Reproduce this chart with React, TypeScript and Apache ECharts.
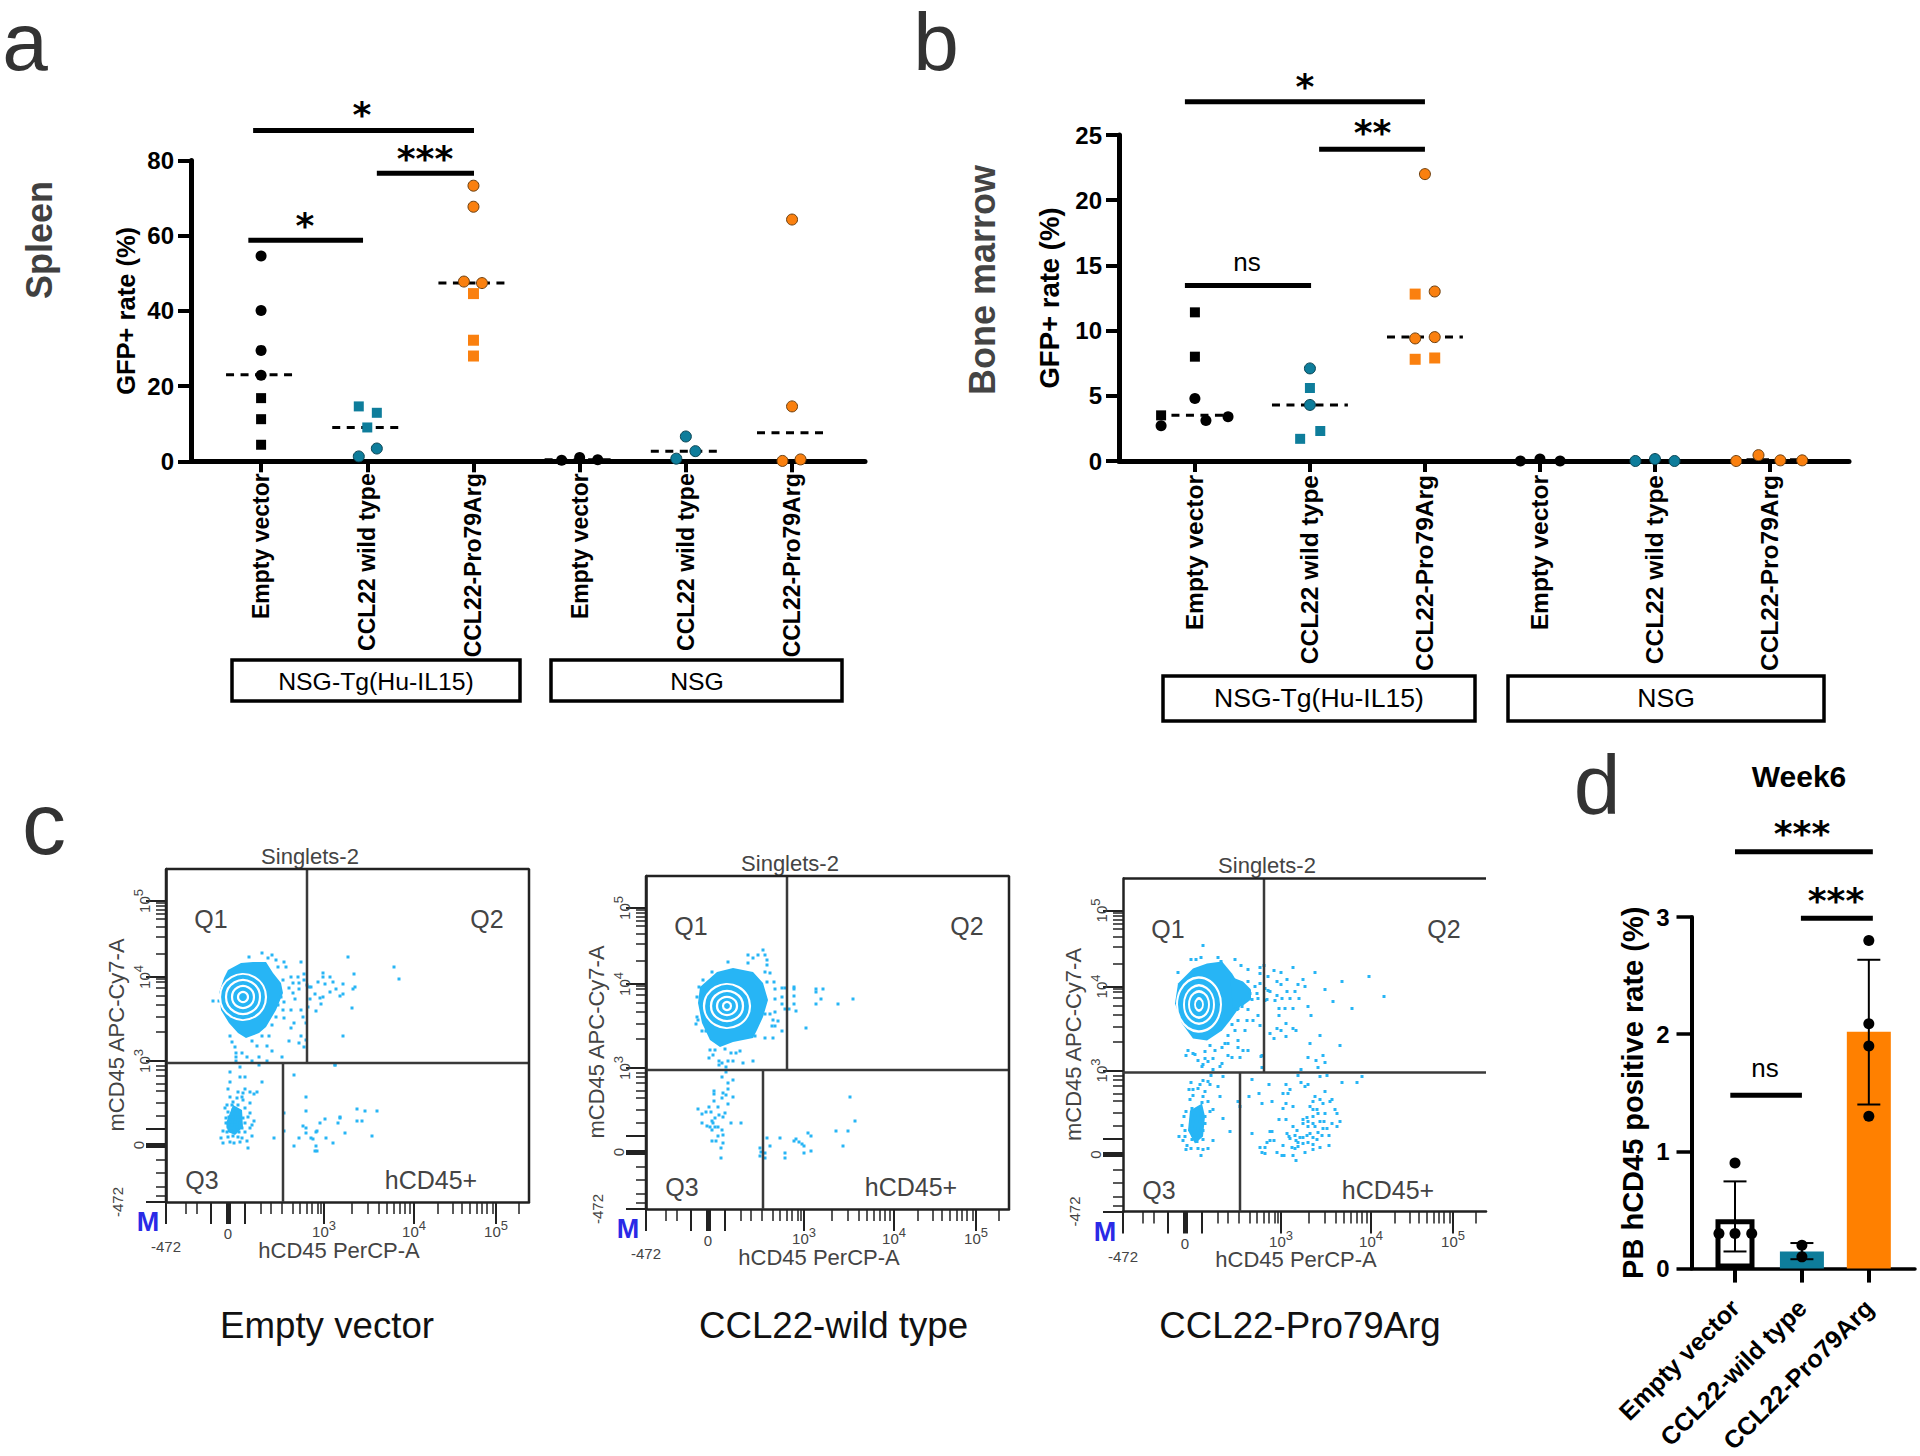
import React, { useEffect, useRef } from "react";
import * as echarts from "echarts";

const FONT = '"Liberation Sans", Arial, sans-serif';
const BLACK = "#000000";
const TEAL = "#0E7D9B";
const ORANGE = "#FA800F";
const DOT = "#27B5F5";
const INK = "#444444";

// ---------- panels a and b ----------
const categories = ["Empty vector", "CCL22 wild type", "CCL22-Pro79Arg", "Empty vector", "CCL22 wild type", "CCL22-Pro79Arg"];
const categoryPositions = [0, 1, 2, 3, 4, 5];

const spleenTicks = [0, 20, 40, 60, 80];
const spleenBlackCircles = [[0, 54.6], [0, 40.1], [0, 29.5], [0, 22.9], [2.83, 0.3], [3, 1], [3.17, 0.4]];
const spleenBlackSquares = [[0, 16.8], [0, 11.2], [0, 4.4]];
const spleenTealCircles = [[1.09, 3.4], [0.92, 1.3], [4, 6.6], [4.09, 2.7], [3.91, 0.7]];
const spleenTealSquares = [[0.92, 14.6], [1.09, 12.9], [1, 9]];
const spleenOrangeCircles = [[2, 73.3], [2, 67.7], [1.91, 47.8], [2.08, 47.4], [5, 64.3], [5, 14.6], [4.91, 0.1], [5.08, 0.5]];
const spleenOrangeSquares = [[2, 44.6], [2, 32.2], [2, 28]];
const spleenMedians = [[0, 23], [1, 9], [2, 47.4], [3, 0.4], [4, 2.7], [5, 7.6]];
const spleenBrackets = [
  [[-0.075, 88], [2.005, 88]],
  [[1.09, 76.6], [2.005, 76.6]],
  [[-0.12, 58.8], [0.96, 58.8]],
];

const marrowTicks = [0, 5, 10, 15, 20, 25];
const marrowBlackCircles = [[0, 4.8], [-0.294, 2.7], [0.096, 3.1], [0.288, 3.4], [2.83, 0], [3, 0.15], [3.175, 0]];
const marrowBlackSquares = [[0, 11.4], [0, 8], [-0.294, 3.5]];
const marrowTealCircles = [[1, 7.1], [1, 4.3], [3.83, 0], [4, 0.15], [4.17, 0]];
const marrowTealSquares = [[1, 5.6], [1.09, 2.3], [0.915, 1.7]];
const marrowOrangeCircles = [[2, 22], [2.085, 13], [1.915, 9.4], [2.085, 9.5], [4.706, 0], [4.9, 0.45], [5.09, 0.05], [5.28, 0.05]];
const marrowOrangeSquares = [[1.915, 12.8], [1.915, 7.8], [2.085, 7.9]];
const marrowMedians = [[0, 3.5], [1, 4.3], [2, 9.5], [3, 0], [4, 0], [5, 0.1]];
const marrowBrackets = [
  [[-0.087, 27.55], [2, 27.55]],
  [[1.08, 23.9], [2, 23.9]],
  [[-0.087, 13.45], [1.01, 13.45]],
];

// ---------- panel d ----------
const weekCategories = ["Empty vector", "CCL22-wild type", "CCL22-Pro79Arg"];
const weekPositions = [0, 1, 2];
const weekTicks = [0, 1, 2, 3];
const weekEmptyBar = [[0, 0.42]];
const weekBars = [[1, 0.146], [2, 2.02]];
const weekErrors = [[0, 0.146, 0.744], [1, 0.08, 0.218], [2, 1.4, 2.635]];
const weekDots = [[0, 0.9], [-0.24, 0.3], [0, 0.3], [0.25, 0.3], [1, 0.2], [1, 0.1], [2, 2.8], [2, 2.09], [2, 1.9], [2, 1.3]];
const weekBrackets = [
  [[0, 3.556], [2.06, 3.556]],
  [[0.985, 2.99], [2.06, 2.99]],
  [[-0.07, 1.48], [1, 1.48]],
];

// ---------- panel c: flow plots, channel units (x 0-363, y 0-333) ----------
const flowXShort = [20, 31, 95, 105, 116, 127, 134, 141, 146, 152, 155, 186, 202, 213, 221, 228, 234, 239, 244, 272, 287, 296, 304, 311, 316, 321, 327, 353];
const flowXLong = [0, 45, 79, 158, 248, 330];
const flowXThick = [62];
const flowXZero = [62];
const flowYShort = [6, 15, 29, 42, 86, 99, 111, 118, 126, 132, 136, 170, 185, 197, 206, 214, 220, 223, 248, 265, 275, 283, 288, 292, 296, 299];
const flowYLong = [0, 73, 141, 225, 301];
const flowYThick = [57];
const flowYZero = [57];
const flowXPower = [158, 248, 330];
const flowYPower = [141, 225, 301];
const flowExponents = ["3", "4", "5"];
const gateUpperVertical = [[141, 139], [141, 333]];
const gateHorizontal = [[0, 139], [363, 139]];
const gateLowerVertical = [[117, 0], [117, 139]];
const frameClosed = [[0, 0], [0, 333], [363, 333], [363, 0]];
const frameOpen = [[363, 333], [0, 333]];

const emptyBlobs = [
  [[58, 224], [62, 232], [75, 239], [87, 240], [100, 240], [107, 229], [115, 219], [117, 209], [110, 192], [100, 175], [93, 169], [80, 164], [72, 169], [63, 179], [55, 192], [53, 209]],
  [[60, 79], [67, 97], [76, 92], [77, 75], [69, 67], [62, 70]],
];
const emptyRings = [[77, 205, 46, 46], [77, 205, 34, 34], [77, 205, 22, 22], [77, 205, 10, 10]];
const emptyDots = [
  [96, 249], [106, 247], [83, 245], [102, 244], [110, 242], [118, 240], [135, 240], [112, 235], [120, 235], [182, 245], [228, 235], [233, 223], [188, 228], [157, 229], [157, 225], [164, 225], [152, 220], [159, 218], [167, 220], [164, 210], [170, 213], [177, 218], [177, 208], [174, 206], [187, 213], [189, 215], [186, 194], [177, 166], [157, 205], [154, 204], [155, 198], [150, 191], [149, 208], [145, 215], [143, 215], [141, 217], [144, 203], [142, 195], [138, 228], [138, 222], [132, 225], [125, 225], [117, 222], [127, 219], [133, 219], [123, 214], [127, 209], [133, 213], [129, 203], [115, 205], [118, 200], [112, 197], [125, 192], [135, 192], [117, 192], [110, 185], [118, 184], [137, 185], [128, 179], [125, 174], [140, 179], [135, 166], [140, 162], [123, 161], [133, 159], [138, 155], [106, 177], [103, 166], [96, 166], [86, 161], [91, 156], [101, 156], [106, 151], [64, 166], [66, 160], [69, 155], [70, 149], [76, 149], [70, 145], [81, 145], [86, 141], [93, 145], [101, 141], [116, 145], [70, 141], [74, 135], [93, 137], [169, 137], [47, 201], [53, 201],
  [64, 130], [74, 125], [79, 125], [64, 120], [96, 120], [62, 113], [79, 113], [84, 110], [91, 110], [72, 110], [77, 109], [88, 108], [64, 105], [71, 104], [76, 105], [67, 100], [77, 102], [84, 99], [61, 97], [66, 97], [72, 97], [79, 94], [84, 89], [59, 94], [62, 90], [67, 92], [74, 90], [60, 84], [63, 85], [67, 85], [72, 85], [77, 84], [82, 85], [88, 81], [60, 79], [64, 80], [69, 80], [74, 79], [79, 79], [86, 77], [84, 74], [57, 71], [62, 75], [66, 77], [71, 75], [76, 74], [79, 70], [86, 66], [61, 70], [65, 71], [69, 70], [73, 70], [62, 65], [67, 66], [72, 65], [55, 64], [57, 59], [64, 60], [68, 59], [74, 60], [81, 61], [82, 54], [108, 64], [76, 64],
  [128, 127], [140, 105], [140, 91], [118, 89], [118, 71], [137, 76], [140, 74], [140, 69], [133, 64], [128, 56], [145, 64], [147, 63], [150, 70], [151, 71], [154, 79], [159, 83], [160, 64], [150, 56], [151, 51], [149, 51], [167, 59], [172, 79], [174, 85], [174, 84], [179, 69], [191, 93], [199, 91], [211, 91], [191, 81], [196, 81], [206, 66], [169, 137],
];

const wildBlobs = [
  [[54, 222], [71, 237], [87, 241], [107, 237], [117, 226], [122, 209], [117, 192], [111, 179], [107, 171], [87, 167], [74, 162], [64, 169], [56, 186], [52, 206]],
];
const wildRings = [[81, 203, 46, 44], [81, 203, 32, 30], [81, 203, 20, 18], [81, 203, 8, 8]];
const wildDots = [
  [117, 259], [119, 254], [112, 254], [102, 254], [107, 251], [121, 249], [121, 244], [102, 246], [82, 247], [119, 237], [124, 236], [66, 237], [57, 229], [128, 227], [121, 227], [129, 220], [136, 221], [139, 221], [148, 222], [148, 220], [170, 220], [170, 217], [177, 220], [148, 213], [175, 210], [170, 205], [192, 205], [207, 210], [148, 205], [136, 212], [129, 210], [136, 205], [139, 200], [143, 200], [150, 198], [129, 197], [124, 195], [119, 195], [127, 189], [132, 188], [126, 183], [129, 183], [136, 178], [160, 181], [119, 171], [127, 171], [53, 222], [51, 212], [51, 192], [52, 189], [50, 185], [56, 178], [60, 178], [104, 173], [109, 173], [64, 159], [69, 159], [67, 154], [63, 151], [79, 160], [85, 156], [90, 156], [94, 158], [82, 148], [87, 148], [97, 146], [107, 148], [73, 148], [73, 144], [76, 146], [80, 142], [80, 137], [76, 132], [87, 129], [82, 126], [82, 120], [68, 118], [68, 115], [77, 116], [80, 114], [87, 112], [76, 111], [82, 105], [68, 108], [63, 102], [72, 102], [52, 100], [60, 97], [65, 97], [56, 95], [73, 94], [79, 96], [77, 92], [69, 91], [56, 86], [66, 88], [67, 86], [61, 83], [64, 82], [69, 82], [72, 82], [66, 79], [76, 79], [85, 86], [95, 86], [72, 73], [77, 74], [66, 68], [70, 68], [77, 66], [75, 61], [75, 51],
  [204, 112], [209, 88], [190, 78], [202, 78], [197, 63], [162, 76], [165, 73], [150, 70], [148, 68], [153, 67], [156, 65], [158, 63], [165, 58], [158, 56], [134, 71], [121, 71], [124, 63], [114, 61], [115, 57], [119, 56], [114, 53], [119, 51], [139, 56], [139, 51],
];

const pointBlobs = [
  [[55, 228], [70, 243], [84, 248], [99, 250], [109, 238], [117, 225], [117, 205], [107, 191], [99, 181], [84, 171], [70, 173], [59, 188], [52, 208]],
  [[107, 235], [120, 230], [128, 222], [128, 212], [120, 206], [110, 203]],
  [[67, 101], [79, 108], [82, 95], [80, 75], [72, 68], [65, 81]],
];
const pointRings = [[76, 207, 44, 54], [76, 207, 30, 38], [76, 207, 20, 26], [76, 207, 8, 12]];
const pointDots = [
  [80, 266], [68, 252], [73, 252], [78, 254], [95, 254], [98, 250], [112, 252], [118, 246], [55, 239], [125, 242], [137, 244], [141, 246], [151, 241], [158, 239], [170, 244], [192, 239], [219, 230], [246, 235], [261, 215], [180, 232], [175, 227], [182, 225], [202, 222], [210, 210], [229, 203], [145, 235], [154, 230], [158, 227], [164, 232], [145, 221], [147, 220], [154, 216], [159, 213], [164, 220], [172, 220], [176, 213], [152, 211], [167, 213], [185, 205], [188, 196], [156, 203], [162, 203], [170, 203], [156, 196], [163, 188], [154, 183], [170, 183], [173, 181], [158, 181], [147, 178], [151, 173], [163, 175], [197, 176], [187, 168], [217, 166], [185, 154], [200, 156], [193, 151], [202, 149], [195, 144], [178, 142],
  [137, 238], [125, 230], [132, 225], [137, 228], [127, 218], [134, 218], [120, 212], [129, 212], [135, 213], [142, 223], [144, 212], [119, 205], [114, 202], [125, 202], [135, 196], [130, 191], [124, 191], [115, 191], [137, 186], [109, 187], [112, 181], [122, 181], [105, 176], [115, 171], [102, 168], [105, 168], [99, 164], [92, 161], [87, 166], [115, 164], [120, 161], [125, 161], [70, 158], [82, 160], [65, 161], [63, 156], [72, 157], [105, 156], [109, 154], [117, 154], [75, 151], [82, 153], [90, 153], [85, 150], [99, 148], [97, 145], [80, 147], [139, 156], [138, 155], [139, 144], [115, 203], [142, 211],
  [79, 145], [90, 142], [100, 135], [88, 136], [68, 129], [77, 127], [80, 131], [85, 130], [87, 127], [95, 125], [66, 122], [70, 122], [75, 123], [82, 120], [70, 116], [80, 115], [97, 115], [85, 110], [67, 112], [79, 109], [69, 103], [75, 103], [90, 102], [63, 100], [87, 100], [69, 96], [75, 96], [61, 95], [82, 95], [100, 93], [70, 90], [77, 90], [82, 88], [59, 86], [69, 85], [75, 83], [107, 80], [62, 81], [80, 81], [56, 75], [62, 75], [70, 76], [77, 76], [69, 72], [74, 70], [80, 72], [90, 71], [60, 71], [64, 66], [68, 63], [63, 62], [75, 63], [80, 62], [85, 63], [78, 56],
  [129, 132], [146, 127], [163, 127], [178, 129], [185, 127], [182, 125], [167, 122], [219, 129], [234, 129], [239, 135], [197, 135], [204, 136], [175, 136], [126, 115], [136, 118], [160, 118], [165, 118], [139, 108], [149, 110], [163, 108], [160, 103], [170, 105], [115, 110], [117, 105], [192, 115], [202, 120], [197, 112], [209, 112], [207, 110], [190, 110], [200, 108], [187, 105], [190, 102], [194, 102], [212, 102], [195, 98], [202, 98], [214, 98], [156, 92], [163, 92], [180, 92], [184, 94], [190, 95], [217, 90], [185, 90], [190, 88], [197, 90], [201, 90], [209, 88], [180, 88], [214, 85], [170, 85], [174, 81], [185, 85], [192, 85], [200, 83], [204, 83], [129, 78], [147, 80], [149, 80], [164, 78], [166, 75], [167, 73], [172, 76], [177, 74], [180, 74], [184, 76], [187, 78], [190, 74], [195, 79], [199, 76], [206, 76], [147, 71], [151, 71], [144, 69], [160, 66], [173, 71], [175, 69], [180, 68], [185, 69], [190, 67], [197, 64], [194, 72], [206, 66], [137, 64], [142, 64], [169, 64], [172, 63], [175, 65], [182, 59], [190, 62], [139, 59], [142, 58], [154, 59], [159, 56], [161, 56], [170, 56], [173, 51],
];

// ---------- helpers ----------
type Txt = { text: string; x: number; y: number; size: number; weight?: string; color?: string; rot?: number; family?: string };
function txt({ text, x, y, size, weight = "normal", color = BLACK, rot = 0, family = FONT }: Txt) {
  return {
    type: "text",
    x,
    y,
    rotation: rot,
    silent: true,
    style: { text, fontSize: size, fontWeight: weight, fontFamily: family, fill: color, align: "center", verticalAlign: "middle", textAlign: "center", textVerticalAlign: "middle" },
  };
}
const stars = (text: string, x: number, y: number) =>
  txt({ text, x, y: y + 5, size: 36, weight: "bold", family: '"DejaVu Sans", sans-serif' });
const box = (x: number, y: number, width: number, height: number) => ({
  type: "rect",
  silent: true,
  shape: { x, y, width, height },
  style: { fill: "#ffffff", stroke: BLACK, lineWidth: 3.5 },
});

function App() {
  const ref = useRef<HTMLDivElement>(null);

  useEffect(() => {
    document.body.style.margin = "0";
    const chart = echarts.init(ref.current!, undefined, { renderer: "svg" });

    const grids: any[] = [];
    const xAxes: any[] = [];
    const yAxes: any[] = [];
    const series: any[] = [];
    const graphics: any[] = [];

    const points = (g: { x: number; y: number }, data: number[][], color: string, symbol: string, size: number, border?: string) =>
      series.push({
        type: "scatter",
        xAxisIndex: g.x,
        yAxisIndex: g.y,
        data,
        symbol,
        symbolSize: size,
        silent: true,
        clip: false,
        z: 4,
        itemStyle: { color, opacity: 1, borderColor: border ?? color, borderWidth: border ? 1 : 0 },
      });

    const brackets = (g: { x: number; y: number }, list: number[][][]) =>
      list.forEach((data) =>
        series.push({
          type: "line",
          xAxisIndex: g.x,
          yAxisIndex: g.y,
          data,
          symbol: "none",
          clip: false,
          silent: true,
          lineStyle: { color: BLACK, width: 5 },
        })
      );

    const medians = (g: { x: number; y: number }, data: number[][]) =>
      series.push({
        type: "custom",
        xAxisIndex: g.x,
        yAxisIndex: g.y,
        data,
        clip: false,
        silent: true,
        z: 3,
        encode: { x: 0, y: 1 },
        renderItem: (_: any, api: any) => {
          const a = api.coord([api.value(0) - 0.33, api.value(1)]);
          const b = api.coord([api.value(0) + 0.33, api.value(1)]);
          return {
            type: "line",
            shape: { x1: a[0], y1: a[1], x2: b[0], y2: b[1] },
            style: { stroke: BLACK, lineWidth: 3, lineDash: [8, 6.5], fill: null },
          };
        },
      });

    const dotPanel = (opt: any) => {
      const idx = grids.length;
      const ax = { x: xAxes.length, y: yAxes.length };
      grids.push({ left: opt.left, top: opt.top, width: opt.width, height: opt.height });
      xAxes.push({
        type: "value",
        gridIndex: idx,
        position: "bottom",
        min: -0.66,
        max: 5.687,
        splitLine: { show: false },
        axisLine: { show: true, onZero: false, lineStyle: { color: BLACK, width: 5 } },
        axisTick: { show: true, customValues: categoryPositions, length: 11, lineStyle: { color: BLACK, width: 4 } },
        axisLabel: {
          show: true,
          customValues: categoryPositions,
          rotate: 90,
          margin: opt.catMargin,
          hideOverlap: false,
          fontFamily: FONT,
          fontWeight: "bold",
          fontSize: opt.catSize,
          color: BLACK,
          formatter: (v: number) => categories[Math.round(v)],
        },
      });
      yAxes.push({
        type: "value",
        gridIndex: idx,
        position: "left",
        min: 0,
        max: opt.max,
        interval: opt.interval,
        name: "GFP+ rate (%)",
        nameLocation: "middle",
        nameGap: opt.nameGap,
        nameTextStyle: { fontFamily: FONT, fontWeight: "bold", fontSize: opt.nameSize, color: BLACK },
        splitLine: { show: false },
        axisLine: { show: true, onZero: false, lineStyle: { color: BLACK, width: 5 } },
        axisTick: { show: true, length: 13, lineStyle: { color: BLACK, width: 4 } },
        axisLabel: { margin: 17, fontFamily: FONT, fontWeight: "bold", fontSize: 24, color: BLACK, customValues: opt.ticks },
      });
      medians(ax, opt.medians);
      points(ax, opt.blackCircles, BLACK, "circle", 11);
      points(ax, opt.blackSquares, BLACK, "rect", 10);
      points(ax, opt.tealCircles, TEAL, "circle", 11, "#0A4453");
      points(ax, opt.tealSquares, TEAL, "rect", 10);
      points(ax, opt.orangeCircles, ORANGE, "circle", 11, "#6B3F10");
      points(ax, opt.orangeSquares, ORANGE, "rect", 11);
      brackets(ax, opt.brackets);
    };

    dotPanel({
      left: 191, top: 160.5, width: 674, height: 300.8, max: 80, interval: 20, ticks: spleenTicks, catSize: 23, catMargin: 12, nameSize: 25.5, nameGap: 52,
      medians: spleenMedians, blackCircles: spleenBlackCircles, blackSquares: spleenBlackSquares, tealCircles: spleenTealCircles, tealSquares: spleenTealSquares, orangeCircles: spleenOrangeCircles, orangeSquares: spleenOrangeSquares, brackets: spleenBrackets,
    });
    dotPanel({
      left: 1119, top: 135, width: 730, height: 326, max: 25, interval: 5, ticks: marrowTicks, catSize: 24.5, catMargin: 14, nameSize: 27.5, nameGap: 56,
      medians: marrowMedians, blackCircles: marrowBlackCircles, blackSquares: marrowBlackSquares, tealCircles: marrowTealCircles, tealSquares: marrowTealSquares, orangeCircles: marrowOrangeCircles, orangeSquares: marrowOrangeSquares, brackets: marrowBrackets,
    });

    // ---------- panel d ----------
    {
      const idx = grids.length;
      const ax = { x: xAxes.length, y: yAxes.length };
      grids.push({ left: 1691.5, top: 917, width: 223.5, height: 353 });
      xAxes.push({
        type: "value",
        gridIndex: idx,
        position: "bottom",
        min: -0.65,
        max: 2.69,
        splitLine: { show: false },
        axisLine: { show: true, onZero: false, lineStyle: { color: BLACK, width: 3.5 } },
        axisTick: { show: true, customValues: weekPositions, length: 14, lineStyle: { color: BLACK, width: 4 } },
        axisLabel: {
          show: true,
          customValues: weekPositions,
          rotate: 45,
          margin: 35,
          hideOverlap: false,
          fontFamily: FONT,
          fontWeight: "bold",
          fontSize: 25,
          color: BLACK,
          formatter: (v: number) => weekCategories[Math.round(v)],
        },
      });
      xAxes.push({ type: "value", gridIndex: idx, position: "bottom", min: -0.65, max: 2.69, show: false });
      yAxes.push({
        type: "value",
        gridIndex: idx,
        position: "left",
        min: 0,
        max: 3,
        interval: 1,
        name: "PB hCD45 positive rate (%)",
        nameLocation: "middle",
        nameGap: 44,
        nameTextStyle: { fontFamily: FONT, fontWeight: "bold", fontSize: 29, color: BLACK },
        splitLine: { show: false },
        axisLine: { show: true, onZero: false, lineStyle: { color: BLACK, width: 4 } },
        axisTick: { show: true, length: 15, lineStyle: { color: BLACK, width: 3.5 } },
        axisLabel: { margin: 22, fontFamily: FONT, fontWeight: "bold", fontSize: 24, color: BLACK, customValues: weekTicks },
      });
      series.push({
        type: "bar",
        xAxisIndex: ax.x + 1,
        yAxisIndex: ax.y,
        data: weekEmptyBar,
        barWidth: 39,
        silent: true,
        z: 2,
        itemStyle: { color: "#ffffff", borderColor: BLACK, borderWidth: 5 },
      });
      series.push({
        type: "bar",
        xAxisIndex: ax.x,
        yAxisIndex: ax.y,
        barWidth: 44,
        silent: true,
        z: 2,
        data: weekBars.map((d, i) => ({ value: d, itemStyle: { color: i === 0 ? TEAL : "#FF8000" } })),
      });
      series.push({
        type: "custom",
        xAxisIndex: ax.x,
        yAxisIndex: ax.y,
        data: weekErrors,
        silent: true,
        z: 3,
        encode: { x: 0, y: [1, 2] },
        renderItem: (_: any, api: any) => {
          const lo = api.coord([api.value(0), api.value(1)]);
          const hi = api.coord([api.value(0), api.value(2)]);
          const style = { stroke: BLACK, lineWidth: 2, fill: null };
          return {
            type: "group",
            children: [
              { type: "line", shape: { x1: lo[0], y1: lo[1], x2: hi[0], y2: hi[1] }, style },
              { type: "line", shape: { x1: lo[0] - 11.5, y1: lo[1], x2: lo[0] + 11.5, y2: lo[1] }, style },
              { type: "line", shape: { x1: hi[0] - 11.5, y1: hi[1], x2: hi[0] + 11.5, y2: hi[1] }, style },
            ],
          };
        },
      });
      points(ax, weekDots, BLACK, "circle", 11);
      brackets(ax, weekBrackets);
    }

    // ---------- panel c ----------
    const flowPlot = (left: number, top: number, dots: number[][], blobs: number[][][], rings: number[][], frame: number[][], caption: string, capX: number) => {
      const idx = grids.length;
      const x0 = xAxes.length;
      const y0 = yAxes.length;
      grids.push({ left, top, width: 363, height: 333 });
      const baseX = { type: "value", gridIndex: idx, position: "bottom", splitLine: { show: false } };
      const baseY = { type: "value", gridIndex: idx, position: "left", splitLine: { show: false } };
      const labelBase = { show: true, fontFamily: FONT, fontSize: 15, color: INK, hideOverlap: false };
      const rich = {
        a: { fontFamily: FONT, fontSize: 15, color: INK, lineHeight: 20, verticalAlign: "bottom" },
        s: { fontFamily: FONT, fontSize: 13, color: INK, lineHeight: 20, verticalAlign: "top" },
      };
      const tickOnly = (values: number[], length: number, width: number) => ({
        axisLine: { show: false, onZero: false },
        axisTick: { show: true, customValues: values, length, lineStyle: { color: "#222222", width } },
        axisLabel: { show: false },
      });
      const mainLine = { show: true, onZero: false, lineStyle: { color: "#222222", width: 2.5 } };

      // x axes
      xAxes.push({
        ...baseX, min: 0, max: 363,
        axisLine: mainLine,
        axisTick: { show: true, customValues: flowXShort, length: 12, lineStyle: { color: "#222222", width: 1.5 } },
        axisLabel: { ...labelBase, customValues: flowXPower, margin: 17, rich, formatter: (v: number) => `{a|10}{s|${flowExponents[flowXPower.indexOf(v)]}}` },
      });
      xAxes.push({ ...baseX, min: 0, max: 363, ...tickOnly(flowXLong, 22, 2) });
      xAxes.push({
        ...baseX, min: 0, max: 363, ...tickOnly(flowXThick, 22, 5),
        axisLabel: { ...labelBase, customValues: flowXZero, margin: 24, formatter: () => "0" },
      });
      xAxes.push({
        ...baseX, min: 0, max: 363,
        axisLine: { show: false, onZero: false }, axisTick: { show: false },
        axisLabel: { ...labelBase, customValues: [0], margin: 37, formatter: () => "-472" },
      });
      // y axes
      yAxes.push({
        ...baseY, min: 0, max: 333,
        axisLine: mainLine,
        axisTick: { show: true, customValues: flowYShort, length: 10, lineStyle: { color: "#222222", width: 1.5 } },
        axisLabel: { ...labelBase, customValues: flowYPower, rotate: 90, margin: 14, rich, formatter: (v: number) => `{a|10}{s|${flowExponents[flowYPower.indexOf(v)]}}` },
      });
      yAxes.push({ ...baseY, min: 0, max: 333, ...tickOnly(flowYLong, 20, 2) });
      yAxes.push({
        ...baseY, min: 0, max: 333, ...tickOnly(flowYThick, 20, 5),
        axisLabel: { ...labelBase, customValues: flowYZero, rotate: 90, margin: 20, formatter: () => "0" },
      });
      yAxes.push({
        ...baseY, min: 0, max: 333,
        axisLine: { show: false, onZero: false }, axisTick: { show: false },
        axisLabel: { ...labelBase, customValues: [0], rotate: 90, margin: 41, formatter: () => "-472" },
      });

      blobs.forEach((polygon) =>
        series.push({
          type: "custom",
          xAxisIndex: x0,
          yAxisIndex: y0,
          data: polygon,
          silent: true,
          z: 2,
          encode: { x: 0, y: 1 },
          renderItem: (params: any, api: any) =>
            params.dataIndex === 0
              ? { type: "polygon", shape: { points: polygon.map((p) => api.coord(p)) }, style: { fill: DOT } }
              : null,
        })
      );
      series.push({
        type: "scatter", xAxisIndex: x0, yAxisIndex: y0, data: dots, symbol: "rect", symbolSize: 3, silent: true, z: 2,
        itemStyle: { color: DOT, opacity: 1 },
      });
      series.push({
        type: "scatter", xAxisIndex: x0, yAxisIndex: y0, data: rings, symbol: "circle", silent: true, z: 3,
        symbolSize: (v: number[]) => [v[2], v[3]],
        itemStyle: { color: "rgba(255,255,255,0)", borderColor: "#ffffff", borderWidth: 2.2, opacity: 1 },
      });
      [gateUpperVertical, gateHorizontal, gateLowerVertical].forEach((data) =>
        series.push({
          type: "line", xAxisIndex: x0, yAxisIndex: y0, data, symbol: "none", silent: true, z: 4,
          lineStyle: { color: "#3a3a3a", width: 2.5 },
        })
      );
      series.push({
        type: "line", xAxisIndex: x0, yAxisIndex: y0, data: frame, symbol: "none", silent: true, clip: false, z: 4,
        lineStyle: { color: "#222222", width: 2.5 },
      });

      const t = (text: string, dx: number, dy: number, size: number, extra: any = {}) =>
        graphics.push(txt({ text, x: left + dx, y: top + dy, size, color: INK, ...extra }));
      t("Singlets-2", 144, -13, 22);
      t("Q1", 45, 50, 25);
      t("Q2", 321, 50, 25);
      t("Q3", 36, 311, 25);
      t("hCD45+", 265, 311, 25);
      t("hCD45 PerCP-A", 173, 381, 22);
      t("mCD45 APC-Cy7-A", -50, 166, 22, { rot: Math.PI / 2 });
      t("M", -18, 353, 27, { weight: "bold", color: "#2A2AE6" });
      graphics.push(txt({ text: caption, x: capX, y: 1325, size: 36.7, color: "#111111" }));
    };

    flowPlot(166, 869, emptyDots, emptyBlobs, emptyRings, frameClosed, "Empty vector", 327);
    flowPlot(646, 876, wildDots, wildBlobs, wildRings, frameClosed, "CCL22-wild type", 833.5);
    flowPlot(1123, 878.5, pointDots, pointBlobs, pointRings, frameOpen, "CCL22-Pro79Arg", 1300);

    graphics.push(
      txt({ text: "a", x: 25, y: 41, size: 82, color: "#333333" }),
      txt({ text: "b", x: 936, y: 41, size: 82, color: "#333333" }),
      txt({ text: "c", x: 44, y: 823, size: 88, color: "#333333" }),
      txt({ text: "d", x: 1597, y: 785, size: 84, color: "#333333" }),
      txt({ text: "Spleen", x: 39, y: 240, size: 36, weight: "bold", color: "#404040", rot: Math.PI / 2 }),
      txt({ text: "Bone marrow", x: 982, y: 280, size: 36, weight: "bold", color: "#444444", rot: Math.PI / 2 }),
      box(232, 660, 288, 41),
      txt({ text: "NSG-Tg(Hu-IL15)", x: 376, y: 681, size: 24.8 }),
      box(551, 660, 291, 41),
      txt({ text: "NSG", x: 697, y: 681, size: 24.8 }),
      box(1163, 676, 312, 45),
      txt({ text: "NSG-Tg(Hu-IL15)", x: 1319, y: 698, size: 26.6 }),
      box(1508, 676, 316, 45),
      txt({ text: "NSG", x: 1666, y: 698, size: 26.6 }),
      stars("*", 362, 109),
      stars("***", 425, 153),
      stars("*", 305, 220),
      stars("*", 1305, 81),
      stars("**", 1372.5, 127),
      txt({ text: "ns", x: 1247, y: 262, size: 26 }),
      txt({ text: "Week6", x: 1799, y: 776, size: 30, weight: "bold" }),
      stars("***", 1802, 828),
      stars("***", 1836, 895),
      txt({ text: "ns", x: 1765, y: 1068, size: 26 })
    );

    chart.setOption({
      animation: false,
      backgroundColor: "#ffffff",
      tooltip: { show: false },
      legend: { show: false },
      grid: grids,
      xAxis: xAxes,
      yAxis: yAxes,
      series,
      graphic: { elements: graphics },
    });

    return () => chart.dispose();
  }, []);

  return <div ref={ref} style={{ width: 1920, height: 1456 }} />;
}

export default App;
